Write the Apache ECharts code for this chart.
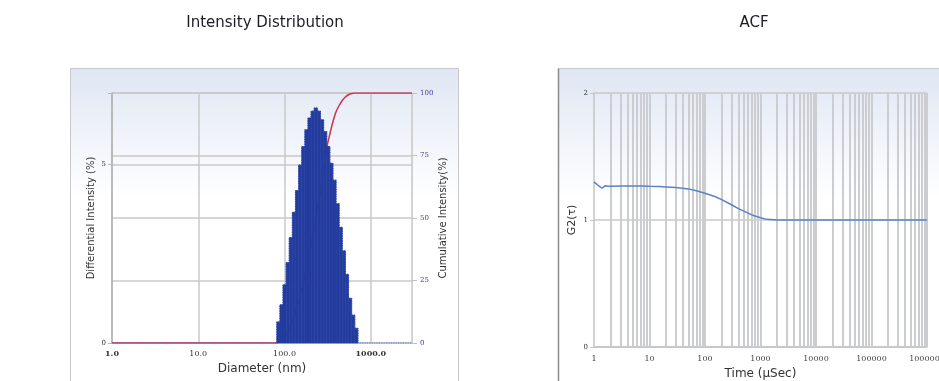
<!DOCTYPE html>
<html>
<head>
<meta charset="utf-8">
<title>Intensity Distribution / ACF</title>
<script src="https://cdn.jsdelivr.net/npm/echarts@6/dist/echarts.min.js"></script>
<style>
html, body { margin: 0; padding: 0; background: #fff; }
#chart { width: 939px; height: 381px; }
</style>
</head>
<body>
<div id="chart"></div>
<script>
// size distribution: bin edges (nm) and differential intensity per bin (%)
var binEdges = [81.3, 88.4, 96.0, 104.3, 113.4, 123.3, 134.0, 145.6, 158.2, 172.0, 186.9, 203.1, 220.8,
    239.9, 260.7, 283.4, 307.9, 334.7, 363.7, 395.3, 429.5, 466.9, 507.4, 551.4, 599.3, 651.3, 707.9];
var diffIntensity = [0.59, 1.07, 1.63, 2.25, 2.95, 3.66, 4.27, 4.98, 5.50, 5.97, 6.30, 6.49, 6.58,
    6.49, 6.25, 5.92, 5.50, 5.03, 4.56, 3.90, 3.24, 2.58, 1.92, 1.25, 0.78, 0.41];

// cumulative intensity (%)
var cumSizes = [1, 81.3, 88.4, 96.0, 104.3, 113.4, 123.3, 134.0, 145.6, 158.2, 172.0, 186.9, 203.1, 220.8,
    239.9, 260.7, 283.4, 307.9, 334.7, 363.7, 395.3, 429.5, 466.9, 507.4, 551.4, 599.3, 651.3, 707.9, 3000];
var cumIntensity = [0, 0, 0.6, 1.7, 3.3, 5.5, 8.5, 12.2, 16.4, 21.4, 26.9, 32.9, 39.2, 45.7,
    53, 61, 69, 78, 83.5, 88.5, 92.5, 95, 97, 98.4, 99.3, 99.8, 100, 100, 100];

var diamTicks = [1, 10, 100, 1000];

// ACF: delay time (µs) and G2(τ)
var acfTime = [1, 1.1, 1.2, 1.3, 1.4, 1.5, 1.6, 1.8, 2, 3, 5, 7, 10, 15, 20, 30, 50, 70, 100, 150,
    200, 300, 400, 500, 700, 1000, 1300, 2000, 5000, 10000, 100000, 1000000];
var acfG2 = [1.30, 1.285, 1.27, 1.255, 1.25, 1.262, 1.27, 1.265, 1.265, 1.268, 1.268, 1.267, 1.265, 1.263,
    1.26, 1.255, 1.245, 1.23, 1.21, 1.185, 1.16, 1.12, 1.09, 1.07, 1.04, 1.018, 1.005, 1.0, 1.0, 1.0, 1.0, 1.0];

var timeDecades = [1, 10, 100, 1000, 10000, 100000];
var timeTicks = [1, 10, 100, 1000, 10000, 100000, 1000000];
var minorSteps = [2, 3, 4, 5, 6, 7, 8, 9, 10];

var chart = echarts.init(document.getElementById('chart'));

var histData = diffIntensity.map(function(h, i) {
    return [binEdges[i], binEdges[i + 1], h];
});
var cumData = cumSizes.map(function(s, i) {
    return [s, cumIntensity[i]];
});
// differential curve drawn as a dotted step line (only its zero tails show)
var diffLineData = [[1, 0]];
diffIntensity.forEach(function(h, i) {
    diffLineData.push([binEdges[i], h]);
});
diffLineData.push([binEdges[binEdges.length - 1], 0]);
diffLineData.push([3000, 0]);

var acfData = acfTime.map(function(t, i) {
    return [t, acfG2[i]];
});
var timeGrid = [];
timeDecades.forEach(function(d) {
    minorSteps.forEach(function(k) {
        timeGrid.push({ xAxis: d * k });
    });
});

function isDecade(v, list) {
    for (var i = 0; i < list.length; i++) {
        if (Math.abs(v - list[i]) / list[i] < 1e-6) return list[i];
    }
    return null;
}

var panelFill = new echarts.graphic.LinearGradient(0, 0, 0, 1, [
    { offset: 0, color: '#dfe6f3' },
    { offset: 0.38, color: '#ffffff' },
    { offset: 1, color: '#ffffff' }
]);

var option = {
    animation: false,
    backgroundColor: '#ffffff',
    graphic: [
        {
            type: 'rect', z: -10, silent: true,
            shape: { x: 70.5, y: 68.5, width: 388, height: 340 },
            style: { fill: panelFill, stroke: '#c9c9cc', lineWidth: 1 }
        },
        {
            type: 'rect', z: -10, silent: true,
            shape: { x: 558.5, y: 68.5, width: 400, height: 340 },
            style: { fill: panelFill, stroke: '#c9c9cc', lineWidth: 1 }
        },
        {
            type: 'line', z: -9, silent: true,
            shape: { x1: 558.5, y1: 68.5, x2: 558.5, y2: 381 },
            style: { stroke: '#8a8a8a', lineWidth: 1.5 }
        },
        {
            type: 'text', silent: true, x: 265, y: 23,
            style: {
                text: 'Intensity Distribution', align: 'center', verticalAlign: 'middle',
                font: '15px "DejaVu Sans"', fill: '#1c1c28'
            }
        },
        {
            type: 'text', silent: true, x: 754, y: 23,
            style: {
                text: 'ACF', align: 'center', verticalAlign: 'middle',
                font: '15px "DejaVu Sans"', fill: '#1c1c28'
            }
        }
    ],
    grid: [
        { left: 112, right: 527, top: 93, bottom: 38, outerBoundsMode: 'none', containLabel: false },
        { left: 594, right: 12, top: 93, bottom: 34, outerBoundsMode: 'none', containLabel: false }
    ],
    xAxis: [
        {
            gridIndex: 0, type: 'log', logBase: 10, min: 1, max: 3000,
            name: 'Diameter (nm)', nameLocation: 'middle', nameGap: 18,
            nameTextStyle: { fontFamily: 'DejaVu Sans', fontSize: 12, color: '#333' },
            axisLine: { show: true, lineStyle: { color: '#c4c4c4', width: 1 } },
            axisTick: { show: false },
            axisLabel: {
                margin: 7, fontFamily: 'DejaVu Serif', fontSize: 8, color: '#333',
                formatter: function(v) {
                    var d = isDecade(v, diamTicks);
                    if (d === null) return '';
                    if (d === 1 || d === 1000) return '{b|' + d.toFixed(1) + '}';
                    return d.toFixed(1);
                },
                rich: { b: { fontFamily: 'DejaVu Serif', fontSize: 8, fontWeight: 'bold', color: '#333' } }
            },
            splitLine: { show: true, lineStyle: { color: '#c8c8c8', width: 1.5 } }
        },
        {
            gridIndex: 1, type: 'log', logBase: 10, min: 1, max: 1000000,
            name: 'Time (µSec)', nameLocation: 'middle', nameGap: 18,
            nameTextStyle: { fontFamily: 'DejaVu Sans', fontSize: 12, color: '#333' },
            axisLine: { show: true, lineStyle: { color: '#c4c4c4', width: 1.5 } },
            axisTick: { show: false },
            axisLabel: {
                margin: 8, fontFamily: 'DejaVu Serif', fontSize: 8, color: '#444',
                showMaxLabel: true, hideOverlap: false,
                formatter: function(v) {
                    var d = isDecade(v, timeTicks);
                    return d === null ? '' : String(d);
                }
            },
            splitLine: { show: false }
        }
    ],
    yAxis: [
        {
            gridIndex: 0, type: 'value', min: 0, max: 7, interval: 5,
            name: 'Differential Intensity (%)', nameLocation: 'middle', nameGap: 16,
            nameTextStyle: { fontFamily: 'DejaVu Sans', fontSize: 10, color: '#333' },
            axisLine: { show: true, lineStyle: { color: '#b0b0b0', width: 1.5 } },
            axisTick: { show: true, length: 4, lineStyle: { color: '#b8b8b8' } },
            axisLabel: {
                margin: 6, fontFamily: 'DejaVu Serif', fontSize: 7, color: '#333',
                formatter: function(v) { return v % 5 === 0 ? String(v) : ''; }
            },
            splitLine: { show: true, lineStyle: { color: '#c8c8c8', width: 1.5 } }
        },
        {
            gridIndex: 0, type: 'value', position: 'right', min: 0, max: 100, interval: 25,
            name: 'Cumulative Intensity(%)', nameLocation: 'middle', nameGap: 26,
            nameTextStyle: { fontFamily: 'DejaVu Sans', fontSize: 10, color: '#333' },
            axisLine: { show: true, lineStyle: { color: '#d0d0d0', width: 1 } },
            axisTick: { show: true, length: 5, lineStyle: { color: '#c0c0c0' } },
            axisLabel: { margin: 8, fontFamily: 'DejaVu Serif', fontSize: 7, color: '#3c3ca0' },
            splitLine: { show: true, lineStyle: { color: '#c8c8c8', width: 1.5 } }
        },
        {
            gridIndex: 1, type: 'value', min: 0, max: 2, interval: 1,
            name: 'G2(τ)', nameLocation: 'middle', nameGap: 16,
            nameTextStyle: { fontFamily: 'DejaVu Sans', fontSize: 11, color: '#333' },
            axisLine: { show: true, lineStyle: { color: '#c4c4c4', width: 1.5 } },
            axisTick: { show: true, length: 4, lineStyle: { color: '#c4c4c4' } },
            axisLabel: { margin: 6, fontFamily: 'DejaVu Serif', fontSize: 7, color: '#333' },
            splitLine: { show: true, lineStyle: { color: '#c8c8c8', width: 1.5 } }
        }
    ],
    series: [
        {
            name: 'Cumulative', type: 'line', xAxisIndex: 0, yAxisIndex: 1, z: 2,
            data: cumData, showSymbol: false, smooth: 0.3,
            lineStyle: { color: '#d03050', width: 1.5 }
        },
        {
            name: 'Differential line', type: 'line', xAxisIndex: 0, yAxisIndex: 0, z: 3,
            data: diffLineData, step: 'end', showSymbol: false,
            lineStyle: { color: '#4060c0', width: 1.2, type: 'dotted' }
        },
        {
            name: 'Differential', type: 'custom', xAxisIndex: 0, yAxisIndex: 0, z: 4,
            data: histData,
            encode: { x: [0, 1], y: 2 },
            renderItem: function(params, api) {
                var p0 = api.coord([api.value(0), api.value(2)]);
                var p1 = api.coord([api.value(1), 0]);
                return {
                    type: 'rect',
                    shape: { x: p0[0], y: p0[1], width: p1[0] - p0[0], height: p1[1] - p0[1] },
                    style: { fill: '#233c9e', stroke: '#233c9e', lineWidth: 0.6 }
                };
            }
        },
        {
            name: 'grid lines', type: 'line', xAxisIndex: 1, yAxisIndex: 2, z: 1,
            data: acfData, showSymbol: false, silent: true,
            lineStyle: { opacity: 0 },
            markLine: {
                silent: true, symbol: 'none', animation: false,
                label: { show: false },
                lineStyle: { color: '#cbcdd0', width: 2, type: 'solid' },
                data: timeGrid
            }
        },
        {
            name: 'G2', type: 'line', xAxisIndex: 1, yAxisIndex: 2, z: 5,
            data: acfData, showSymbol: false,
            lineStyle: { color: '#5b82c2', width: 1.5 }
        }
    ]
};

chart.setOption(option);
</script>
</body>
</html>
